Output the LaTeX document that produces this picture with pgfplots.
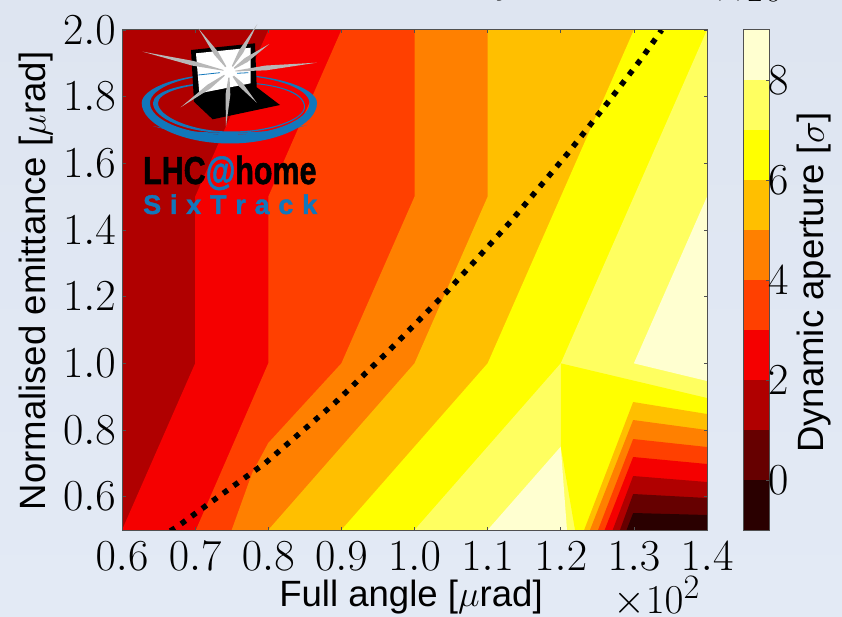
\documentclass[border=0pt]{standalone}
\usepackage[no-math]{fontspec}
\usepackage{pgfplots}
\pgfplotsset{compat=1.18}
\usetikzlibrary{calc}
\newfontfamily\hv{Liberation Sans}
\newfontfamily\hvheavy{Liberation Sans Bold}[FakeBold=1.5]
\definecolor{c0}{HTML}{2A0000}
\definecolor{c1}{HTML}{660000}
\definecolor{c2}{HTML}{B00000}
\definecolor{c3}{HTML}{F50000}
\definecolor{c4}{HTML}{FF4000}
\definecolor{c5}{HTML}{FF8000}
\definecolor{c6}{HTML}{FFBF00}
\definecolor{c7}{HTML}{FFFF00}
\definecolor{c8}{HTML}{FFFF60}
\definecolor{c9}{HTML}{FFFFD0}
\definecolor{bgtop}{HTML}{DEE5F1}
\definecolor{bgbot}{HTML}{E3EAF5}
\definecolor{logoblue}{HTML}{1277BB}
\definecolor{raygray}{HTML}{B8B8B8}
\definecolor{frame}{HTML}{505050}
\newcommand\ray[2]{\fill[raygray] (c) -- ($(c)!.42!(#1,#2)!2.4pt!90:(#1,#2)$) -- (#1,#2) -- ($(c)!.42!(#1,#2)!2.4pt!-90:(#1,#2)$) -- cycle;}
\begin{document}
\begin{tikzpicture}
\useasboundingbox (0,0) rectangle (842pt,616pt);
\shade[top color=bgtop,bottom color=bgbot] (0,0) rectangle (842pt,616pt);
\begin{axis}[
  at={(122pt,86pt)},anchor=south west,scale only axis,width=585pt,height=500pt,
  xmin=0.6,xmax=1.4,ymin=0.5,ymax=2.0,
  xtick={0.6,0.7,0.8,0.9,1.0,1.1,1.2,1.3,1.4},
  ytick={0.6,0.8,1.0,1.2,1.4,1.6,1.8,2.0},
  scaled ticks=false,
  xticklabel style={yshift=-3pt,/pgf/number format/.cd,fixed,fixed zerofill,precision=1},
  yticklabel style={/pgf/number format/.cd,fixed,fixed zerofill,precision=1},
  tick label style={font=\Huge,scale=1.78,text=black},
  tick align=inside,major tick length=3.5pt,
  tick style={frame,line width=0.7pt},
  axis line style={frame,line width=1pt},
  axis on top,
  xlabel={Full angle [$\mu$rad]},
  ylabel={Normalised emittance [$\mu$rad]},
  xlabel style={font=\hv\Huge,scale=1.47,at={(axis description cs:0.494,-0.134)},anchor=center},
  ylabel style={font=\hv\Huge,scale=1.47,at={(axis description cs:-0.147,0.498)},anchor=center},
]
\addplot[fill=c2,draw=none] coordinates {(0.6,0.5)(1.4,0.5)(1.4,2.0)(0.6,2.0)} -- cycle;
\addplot[fill=c3,draw=none] coordinates {(0.6,0.5)(0.7,1.0)(0.7,1.5)(0.8,2.0)(1.4,2.0)(1.4,0.5)} -- cycle;
\addplot[fill=c4,draw=none] coordinates {(0.701,0.5)(0.8,1.0)(0.8,1.5)(0.9,2.0)(1.4,2.0)(1.4,0.5)} -- cycle;
\addplot[fill=c5,draw=none] coordinates {(0.75,0.5)(0.778,0.671)(0.8,0.761)(0.9,1.0)(1.0,1.5)(1.0,2.0)(1.4,2.0)(1.4,0.5)} -- cycle;
\addplot[fill=c6,draw=none] coordinates {(0.8,0.5)(1.0,1.0)(1.1,1.5)(1.1,2.0)(1.4,2.0)(1.4,0.5)} -- cycle;
\addplot[fill=c7,draw=none] coordinates {(0.9,0.5)(1.1,1.0)(1.3,2.0)(1.4,2.0)(1.4,0.5)} -- cycle;
\addplot[fill=c8,draw=none] coordinates {(1.0,0.5)(1.144,0.86)(1.2,1.0)(1.3,1.5)(1.4,2.0)(1.4,0.5)} -- cycle;
\addplot[fill=c9,draw=none] coordinates {(1.1,0.5)(1.2,0.75)(1.2085,0.5)} -- cycle;
\addplot[fill=c9,draw=none] coordinates {(1.4,1.5)(1.3,1.0)(1.4,0.947)} -- cycle;
\addplot[fill=c7,draw=none] coordinates {(1.2,1.0)(1.4,0.896)(1.4,0.5)(1.2195,0.5)(1.2,0.75)} -- cycle;
\addplot[fill=c6,draw=none] coordinates {(1.232,0.5)(1.299,0.884)(1.4,0.848)(1.4,0.5)} -- cycle;
\addplot[fill=c5,draw=none] coordinates {(1.24,0.5)(1.299,0.83)(1.4,0.80)(1.4,0.5)} -- cycle;
\addplot[fill=c4,draw=none] coordinates {(1.251,0.5)(1.299,0.773)(1.4,0.749)(1.4,0.5)} -- cycle;
\addplot[fill=c3,draw=none] coordinates {(1.26,0.5)(1.299,0.719)(1.4,0.698)(1.4,0.5)} -- cycle;
\addplot[fill=c2,draw=none] coordinates {(1.271,0.5)(1.299,0.662)(1.4,0.644)(1.4,0.5)} -- cycle;
\addplot[fill=c1,draw=none] coordinates {(1.281,0.5)(1.299,0.608)(1.4,0.596)(1.4,0.5)} -- cycle;
\addplot[fill=c0,draw=none] coordinates {(1.29,0.5)(1.299,0.551)(1.4,0.545)(1.4,0.5)} -- cycle;
\addplot[black,line width=5.5pt,dash pattern=on 5.5pt off 7.5pt] coordinates {
 (0.666,0.497)(0.675,0.509)(0.720,0.581)(0.796,0.701)(0.891,0.881)(0.966,1.04)
 (1.044,1.214)(1.131,1.424)(1.210,1.631)(1.267,1.79)(1.311,1.916)(1.338,2.0)};
\end{axis}
\begin{axis}[
  at={(743pt,86pt)},anchor=south west,scale only axis,width=26pt,height=500pt,
  xmin=0,xmax=1,ymin=-1,ymax=9,
  xtick=\empty,ytick={0,2,4,6,8},
  ytick pos=right,yticklabel pos=right,
  yticklabel style={xshift=-4pt},
  tick label style={font=\Huge,scale=1.78,text=black},
  tick align=inside,major tick length=3.5pt,
  tick style={frame,line width=0.7pt},
  axis line style={frame,line width=1pt},
  axis on top,
  ylabel={Dynamic aperture [$\sigma$]},
  ylabel style={font=\hv\Huge,scale=1.47,at={(axis description cs:2.75,0.495)},anchor=center},
]
\addplot[fill=c0,draw=none] coordinates {(0,-1)(1,-1)(1,0)(0,0)} -- cycle;
\addplot[fill=c1,draw=none] coordinates {(0,0)(1,0)(1,1)(0,1)} -- cycle;
\addplot[fill=c2,draw=none] coordinates {(0,1)(1,1)(1,2)(0,2)} -- cycle;
\addplot[fill=c3,draw=none] coordinates {(0,2)(1,2)(1,3)(0,3)} -- cycle;
\addplot[fill=c4,draw=none] coordinates {(0,3)(1,3)(1,4)(0,4)} -- cycle;
\addplot[fill=c5,draw=none] coordinates {(0,4)(1,4)(1,5)(0,5)} -- cycle;
\addplot[fill=c6,draw=none] coordinates {(0,5)(1,5)(1,6)(0,6)} -- cycle;
\addplot[fill=c7,draw=none] coordinates {(0,6)(1,6)(1,7)(0,7)} -- cycle;
\addplot[fill=c8,draw=none] coordinates {(0,7)(1,7)(1,8)(0,8)} -- cycle;
\addplot[fill=c9,draw=none] coordinates {(0,8)(1,8)(1,9)(0,9)} -- cycle;
\end{axis}
\begin{scope}[x=1pt,y=-1pt,yshift=616pt]
% multiplier and cut-off text
\node[anchor=base,inner sep=0,font=\Huge,scale=1.65,text=black] at (657,613) {$\times 10^{2}$};
\node[anchor=base,inner sep=0,font=\Huge,scale=1.65,text=black] at (748,2) {$\times 10$};
\node[anchor=base,inner sep=0,font=\hv\Huge,scale=1.47] at (505,-6) {y};
% logo: swooshes
\fill[logoblue,even odd rule]
  (141.7,103) .. controls (141.7,88) and (180,74) .. (224,74) .. controls (275,74) and (317,88) .. (317,103)
  .. controls (317,124) and (278,143.5) .. (230,143.5) .. controls (182,143.5) and (141.7,124) .. cycle
  (150,103) .. controls (150,88) and (184,75) .. (224,75) .. controls (272,75) and (309.5,88) .. (309.5,103)
  .. controls (309.5,120) and (272,135) .. (230,135) .. controls (186,135) and (150,120) .. cycle;
\fill[logoblue,even odd rule]
  (153,103) .. controls (153,92) and (180,82) .. (229,82) .. controls (278,82) and (305,92) .. (305,107)
  .. controls (305,120) and (270,133) .. (229,133) .. controls (186,133) and (153,118) .. cycle
  (158,103) .. controls (158,93) and (184,83) .. (231,83) .. controls (276,83) and (304,93) .. (304,107)
  .. controls (304,119) and (270,131.5) .. (231,131.5) .. controls (190,131.5) and (158,116) .. cycle;
\fill[logoblue] (153,126) .. controls (190,138) and (270,138) .. (307,125) .. controls (270,135) and (190,135) .. cycle;
% logo: laptop and burst
\fill[black] (191,50) -- (255,43.3) -- (256.7,87.3) -- (280,105) -- (212.7,119.3) -- (194,101.7) -- cycle;
\fill[white] (196,53.3) -- (250.7,47.7) -- (250.7,83.3) -- (199.3,93.3) -- cycle;
\draw[logoblue,line width=0.8pt] (198.3,75) -- (220,72.7) (237,73.3) -- (248.3,72.7);
\coordinate (c) at (229.3,71.7);
\ray{142.7}{51.7}\ray{198.3}{28.3}\ray{257.3}{24}\ray{269.3}{44}
\ray{316.7}{62.7}\ray{256.7}{102.7}\ray{226}{126.7}\ray{180.7}{107.3}
\fill[white] (c) circle (6pt);
\node[anchor=base west,inner sep=0,xscale=0.78,font=\hvheavy\fontsize{39}{40}\selectfont] at (143,184) {LHC{\color{logoblue}@}home};
\node[anchor=base west,inner sep=0,text=logoblue,font=\hvheavy\fontsize{27}{28}\selectfont] at (143,214) {\makebox[174pt][s]{S\hfill i\hfill x\hfill T\hfill r\hfill a\hfill c\hfill k}};
\end{scope}
\end{tikzpicture}
\end{document}
